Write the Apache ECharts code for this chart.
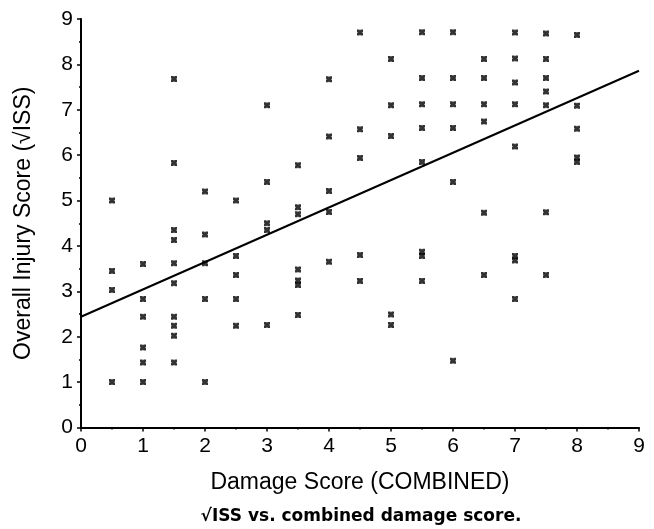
<!DOCTYPE html>
<html>
<head>
<meta charset="utf-8">
<script src="https://cdn.jsdelivr.net/npm/echarts@6/dist/echarts.min.js"></script>
<style>
  html, body { margin: 0; padding: 0; background: #fff; }
  #chart { width: 654px; height: 529px; }
</style>
</head>
<body>
<div id="chart"></div>
<script>
  // damage score columns and the injury scores read at each of them
  let damageScore = [0.5, 1, 1.5, 2, 2.5, 3, 3.5, 4, 4.5, 5, 5.5, 6, 6.5, 7, 7.5, 8];
  let injuryScore = [
    [5.0, 3.45, 3.03, 1.0],
    [3.6, 2.83, 2.44, 1.76, 1.43, 1.0],
    [7.68, 5.83, 4.35, 4.13, 3.62, 3.18, 2.44, 2.24, 2.02, 1.43],
    [5.2, 4.25, 3.62, 2.83, 1.0],
    [5.0, 3.78, 3.36, 2.83, 2.24],
    [7.1, 5.41, 4.5, 4.35, 2.26],
    [5.78, 4.85, 4.7, 3.48, 3.24, 3.14, 2.48],
    [7.67, 6.41, 5.21, 4.75, 3.65],
    [8.7, 6.57, 5.94, 3.8, 3.23],
    [8.12, 7.1, 6.42, 2.49, 2.26],
    [8.71, 7.7, 7.12, 6.6, 5.85, 3.87, 3.78, 3.23],
    [8.71, 7.7, 7.12, 6.6, 5.41, 1.47],
    [8.12, 7.7, 7.12, 6.74, 4.73, 3.36],
    [8.7, 8.13, 7.6, 7.12, 6.19, 3.78, 3.68, 2.83],
    [8.68, 8.12, 7.7, 7.4, 7.1, 4.74, 3.36],
    [8.65, 7.09, 6.58, 5.95, 5.85]
  ];
  // fitted line, read at both ends
  let fitX = [0, 9];
  let fitY = [2.44, 7.86];
  let tickLabels = ['0', '1', '2', '3', '4', '5', '6', '7', '8', '9'];

  let points = [];
  damageScore.forEach(function (x, i) {
    injuryScore[i].forEach(function (y) {
      points.push([x, y]);
    });
  });

  let myChart = echarts.init(document.getElementById('chart'));
  let font = 'Liberation Sans, Arial, sans-serif';
  // small filled square with notched sides, like the printed marks
  let mark = 'path://M0,0 L4,0 L5,1.5 L6,0 L10,0 L10,4 L8.5,5 L10,6 L10,10 L6,10 L5,8.5 L4,10 L0,10 L0,6 L1.5,5 L0,4 Z';

  let axisCommon = {
    type: 'value',
    min: 0,
    max: 9,
    interval: 1,
    nameLocation: 'middle',
    nameTextStyle: { color: '#000', fontSize: 23, fontFamily: font },
    axisLine: { show: true, onZero: false, lineStyle: { color: '#000', width: 2 } },
    axisTick: { show: true, length: 4, lineStyle: { color: '#000', width: 1.5 } },
    minorTick: { show: true, splitNumber: 2, length: 2, lineStyle: { color: '#000', width: 1.5 } },
    splitLine: { show: false },
    axisLabel: {
      color: '#000',
      fontSize: 21,
      fontFamily: font,
      formatter: function (v) { return tickLabels[Math.round(v)]; }
    }
  };

  let option = {
    animation: false,
    backgroundColor: '#fff',
    title: [{
      text: '√ISS vs. combined damage score.',
      left: 356,
      top: 503,
      textAlign: 'center',
      textStyle: { color: '#000', fontSize: 17, fontWeight: 'bold', fontFamily: 'DejaVu Sans, sans-serif' }
    }],
    grid: { left: 81, right: 15, top: 19, bottom: 101.5 },
    xAxis: Object.assign({}, axisCommon, {
      name: 'Damage Score (COMBINED)',
      nameGap: 44,
      axisLabel: Object.assign({}, axisCommon.axisLabel, { margin: 8 })
    }),
    yAxis: Object.assign({}, axisCommon, {
      name: 'Overall Injury Score (√ISS)',
      nameGap: 46,
      axisLabel: Object.assign({}, axisCommon.axisLabel, { margin: 8 })
    }),
    series: [{
      type: 'scatter',
      symbol: mark,
      symbolSize: 6,
      itemStyle: { color: '#000' },
      data: points
    }, {
      type: 'line',
      symbol: 'none',
      lineStyle: { color: '#000', width: 2 },
      data: fitX.map(function (x, i) { return [x, fitY[i]]; })
    }]
  };
  myChart.setOption(option);
</script>
</body>
</html>
